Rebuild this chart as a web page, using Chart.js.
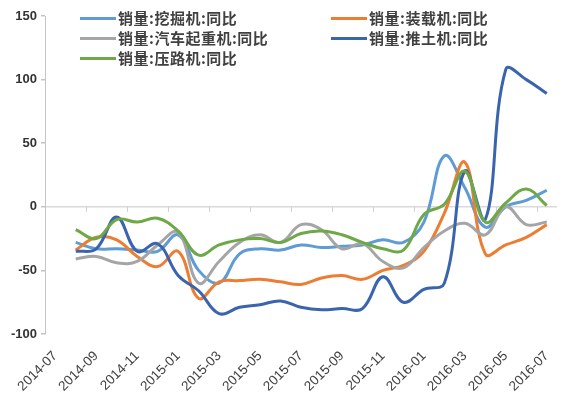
<!DOCTYPE html>
<html lang="zh">
  <head>
    <meta charset="utf-8" />
    <script src="https://cdn.jsdelivr.net/npm/chart.js"></script>
    <style>
      body { margin: 0; background: #fff; }
      #wrap { position: relative; width: 588px; height: 398px; }
      .legendItem {
        position: absolute;
        display: flex;
        align-items: center;
        font: bold 15px "Noto Sans CJK SC";
        letter-spacing: 0.5px;
        color: #404040;
        white-space: nowrap;
        line-height: 18px;
      }
      .swatch { display: inline-block; width: 36px; height: 3px; margin-right: 2px; }
    </style>
  </head>
  <body>
    <div id="wrap">
      <canvas id="myChart" width="588" height="398"></canvas>
      <div id="legend"></div>
    </div>
    <script>
      const months = [
        "2014-07", "2014-08", "2014-09", "2014-10", "2014-11", "2014-12",
        "2015-01", "2015-02", "2015-03", "2015-04", "2015-05", "2015-06",
        "2015-07", "2015-08", "2015-09", "2015-10", "2015-11", "2015-12",
        "2016-01", "2016-02", "2016-03", "2016-04", "2016-05", "2016-06",
        "2016-07",
      ];
      const seriesNames = [
        "销量:挖掘机:同比",
        "销量:装载机:同比",
        "销量:汽车起重机:同比",
        "销量:推土机:同比",
        "销量:压路机:同比",
      ];
      // year-on-year sales change, %
      const excavator = [null, -28, -33, -33, -34, -35, -22, -50, -60, -37, -33, -34, -30, -32, -31, -30, -26, -28, -12, 40, 15, -16, 0, 5, 13];
      const loader = [null, -34, -24, -26, -39, -47, -35, -72, -59, -58, -57, -59, -61, -56, -54, -57, -50, -46, -35, -5, 35, -37, -30, -24, -14];
      const crane = [null, -41, -39, -44, -43, -30, -20, -60, -43, -28, -22, -28, -14, -18, -33, -29, -43, -48, -32, -19, -13, -22, 0, -14, -12];
      const dozer = [null, -35, -33, -8, -35, -29, -54, -66, -84, -79, -77, -74, -79, -81, -80, -80, -55, -75, -65, -60, 28, -10, 108, 100, 89];
      const roller = [null, -18, -25, -10, -12, -9, -19, -38, -30, -26, -25, -28, -21, -19, -22, -28, -33, -34, -6, 2, 28, -12, 3, 14, 1];
      const yTicks = [-100, -50, 0, 50, 100, 150];

      const colors = ["#5f9bd4", "#ec7d33", "#a5a5a5", "#3b64ae", "#6fa846"];
      const allSeries = [excavator, loader, crane, dozer, roller];

      const datasets = allSeries.map((vals, i) => ({
        label: seriesNames[i],
        data: vals,
        borderColor: colors[i],
        backgroundColor: colors[i],
        borderWidth: 3,
        pointRadius: 0,
        tension: 0.4,
        fill: false,
        order: allSeries.length - i,
      }));

      // small tick marks on the zero line, every two months
      const zeroTicks = {
        id: "zeroTicks",
        beforeDatasetsDraw(chart) {
          const xs = chart.scales.x;
          const y0 = chart.scales.y.getPixelForValue(0);
          const ctx = chart.ctx;
          ctx.save();
          ctx.strokeStyle = "#d0d0d0";
          ctx.lineWidth = 1;
          for (let j = 2; j < months.length; j += 2) {
            const px = (xs.getPixelForValue(j - 1) + xs.getPixelForValue(j)) / 2;
            ctx.beginPath();
            ctx.moveTo(Math.round(px) + 0.5, y0);
            ctx.lineTo(Math.round(px) + 0.5, y0 + 5);
            ctx.stroke();
          }
          ctx.restore();
        },
      };

      const config = {
        type: "line",
        data: { labels: months, datasets: datasets },
        plugins: [zeroTicks],
        options: {
          responsive: false,
          animation: false,
          devicePixelRatio: 1,
          layout: { padding: { top: 16, right: 31, left: 0, bottom: 0 } },
          plugins: {
            legend: { display: false },
            tooltip: { enabled: false },
          },
          scales: {
            x: {
              offset: true,
              border: { display: false },
              grid: { display: false },
              ticks: {
                autoSkip: false,
                maxRotation: 45,
                minRotation: 45,
                padding: 6,
                color: "#404040",
                font: { family: "Liberation Sans", size: 13.5 },
                callback: (val, idx) => (idx % 2 === 0 ? months[idx] : ""),
              },
              afterFit: (scale) => {
                scale.height = 64;
              },
            },
            y: {
              min: -100,
              max: 150,
              afterBuildTicks: (scale) => {
                scale.ticks = yTicks.map((v) => ({ value: v }));
              },
              border: { display: true, color: "#c4c4c4", width: 1 },
              grid: {
                color: (ctx) => (ctx.tick && ctx.tick.value === 0 ? "#d9d9d9" : "rgba(0,0,0,0)"),
                lineWidth: 1.5,
                tickColor: "#c4c4c4",
                tickLength: 4,
              },
              ticks: {
                padding: 4,
                color: "#333333",
                font: { family: "Liberation Sans", size: 13, weight: "bold" },
              },
              afterFit: (scale) => {
                scale.width = 45;
              },
            },
          },
        },
      };

      var myChart = new Chart(document.getElementById("myChart"), config);

      // legend drawn as html over the plot, two columns like the original
      const legendPos = [
        [80, 9], [331, 9],
        [80, 29], [331, 29],
        [80, 49],
      ];
      const legendBox = document.getElementById("legend");
      myChart.data.datasets.forEach((ds, i) => {
        const item = document.createElement("div");
        item.className = "legendItem";
        item.style.left = legendPos[i][0] + "px";
        item.style.top = legendPos[i][1] + "px";
        const sw = document.createElement("span");
        sw.className = "swatch";
        sw.style.background = ds.borderColor;
        item.appendChild(sw);
        item.appendChild(document.createTextNode(ds.label));
        legendBox.appendChild(item);
      });
    </script>
  </body>
</html>
